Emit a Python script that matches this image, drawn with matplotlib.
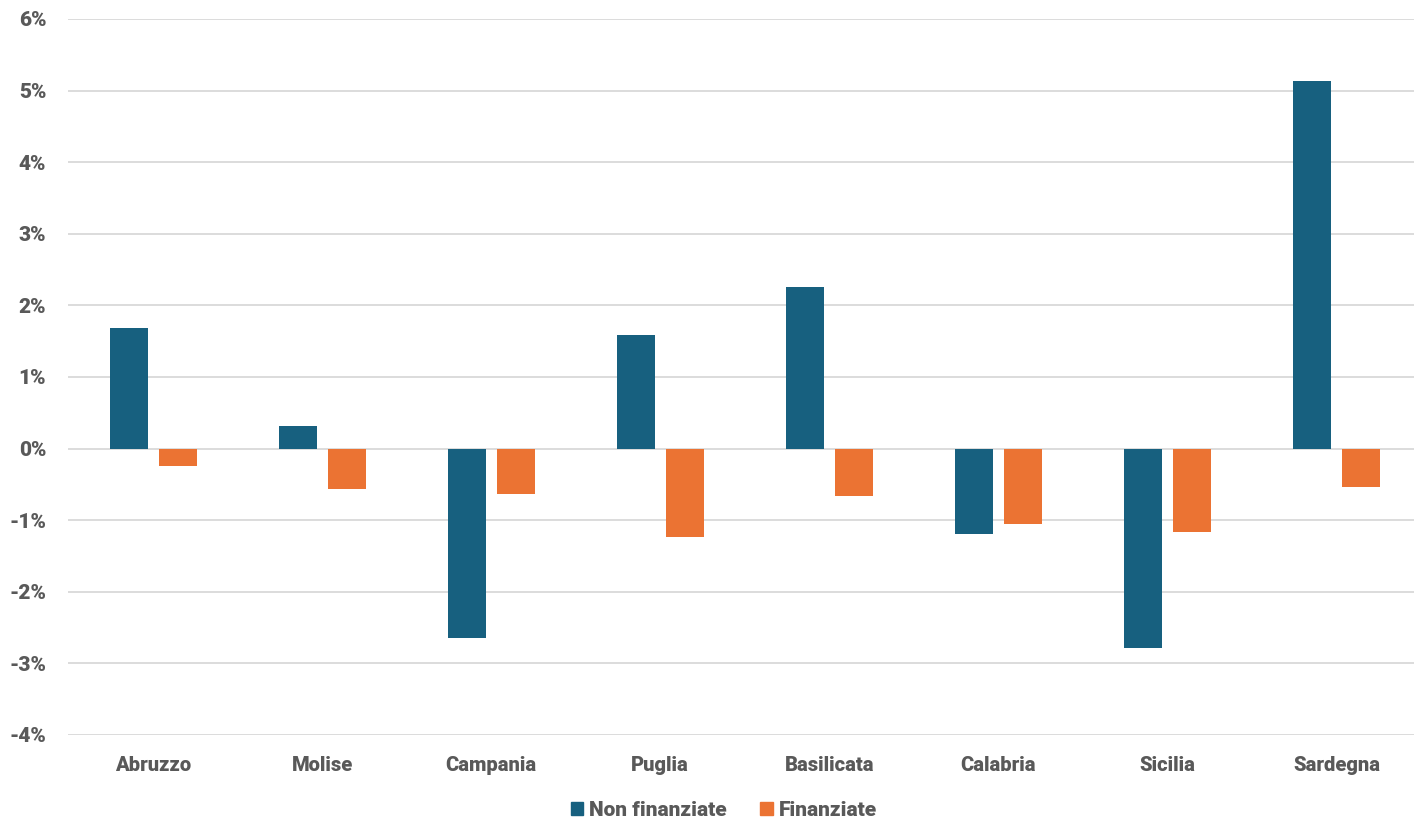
import matplotlib
matplotlib.use("Agg")
import matplotlib.pyplot as plt
import numpy as np
from matplotlib.ticker import FuncFormatter
from matplotlib.patches import Patch

regioni = ["Abruzzo", "Molise", "Campania", "Puglia", "Basilicata",
           "Calabria", "Sicilia", "Sardegna"]
non_finanziate = [1.68, 0.32, -2.64, 1.59, 2.26, -1.19, -2.78, 5.14]
finanziate = [-0.25, -0.56, -0.64, -1.23, -0.66, -1.05, -1.16, -0.53]

col_nf = "#17607f"
col_f = "#eb7333"
txt = "#595959"
grid = "#d9d9d9"

plt.rcParams["font.family"] = ["Roboto", "DejaVu Sans"]

fig = plt.figure(figsize=(14.14, 8.21), dpi=100)
ax = fig.add_axes([68.4 / 1414, 1 - 735 / 821, (1421 - 68.4) / 1414, (735 - 19) / 821])

x = np.arange(len(regioni))
w = 0.226
ax.bar(x - 0.143, non_finanziate, w, color=col_nf, zorder=3)
ax.bar(x + 0.146, finanziate, w, color=col_f, zorder=3)

ax.set_xlim(-0.5, len(regioni) - 0.5)
ax.set_ylim(-4, 6)
ax.set_yticks(np.arange(-4, 7, 1))
ax.yaxis.set_major_formatter(FuncFormatter(lambda v, p: f"{v:.0f}%"))
ax.set_xticks(x)
ax.set_xticklabels(regioni)

ax.grid(axis="y", color=grid, linewidth=1.3, zorder=0)
for s in ax.spines.values():
    s.set_visible(False)
ax.tick_params(axis="both", length=0, labelcolor=txt)
ax.tick_params(axis="y", pad=16, labelsize=15)
ax.tick_params(axis="x", pad=15, labelsize=14.5)
for lab in ax.get_xticklabels() + ax.get_yticklabels():
    lab.set_fontweight("black")

handles = [Patch(color=col_nf, label="Non finanziate"),
           Patch(color=col_f, label="Finanziate")]
leg = fig.legend(handles=handles, loc="center", bbox_to_anchor=(724 / 1414, 1 - 810 / 821),
                 ncol=2, frameon=False, handlelength=0.6, handleheight=0.6,
                 handletextpad=0.3, columnspacing=1.6,
                 prop={"size": 15, "weight": "black"})
for t in leg.get_texts():
    t.set_color(txt)

fig.savefig("out.png", dpi=100, facecolor="white")
